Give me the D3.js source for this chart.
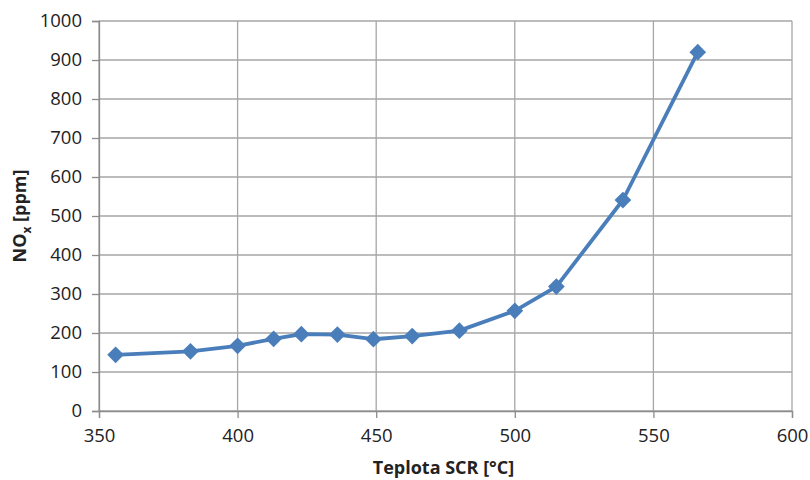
<!DOCTYPE html>
<html>
<head>
<meta charset="utf-8">
<script src="https://cdn.jsdelivr.net/npm/d3@7"></script>
<style>
  body { margin: 0; background: #fff; }
  text { font-family: "Open Sans", "Liberation Sans", sans-serif; fill: #222; }
</style>
</head>
<body>
<svg id="chart"></svg>
<script>
// temperature of SCR [°C] vs NOx [ppm]
let temps = [356, 383, 400, 413, 423, 436, 449, 463, 480, 500, 515, 539, 566];
let noxValues = [144, 153, 167, 185, 197, 196, 184, 192, 206, 257, 319, 541, 920];
let xTicks = [350, 400, 450, 500, 550, 600];
let yTicks = [0, 100, 200, 300, 400, 500, 600, 700, 800, 900, 1000];

function chartConfig(){
    let width = 810;
    let height = 480;
    let margin = {top: 21, bottom: 69, left: 99, right: 18};
    let bodyWidth = width - margin.left - margin.right;
    let bodyHeight = height - margin.top - margin.bottom;
    let container = d3.select("#chart")
        .attr("width", width)
        .attr("height", height);
    return {width, height, margin, bodyWidth, bodyHeight, container};
}

function chartScales(config){
    let {bodyWidth, bodyHeight} = config;
    let xScale = d3.scaleLinear().domain([350, 600]).range([0, bodyWidth]);
    let yScale = d3.scaleLinear().domain([0, 1000]).range([bodyHeight, 0]);
    return {xScale, yScale};
}

function drawChart(){
    let config = chartConfig();
    let {margin, container, bodyWidth, bodyHeight} = config;
    let {xScale, yScale} = chartScales(config);
    let body = container.append("g")
        .attr("transform", `translate(${margin.left},${margin.top})`);

    // grid
    body.selectAll(".hgrid").data(yTicks).enter().append("line")
        .attr("x1", 0).attr("x2", bodyWidth)
        .attr("y1", d => yScale(d)).attr("y2", d => yScale(d))
        .attr("stroke", "#a6a6a6").attr("stroke-width", 1.3);
    body.selectAll(".vgrid").data(xTicks).enter().append("line")
        .attr("y1", 0).attr("y2", bodyHeight)
        .attr("x1", d => xScale(d)).attr("x2", d => xScale(d))
        .attr("stroke", "#a6a6a6").attr("stroke-width", 1.3);

    // axes
    let yAxis = d3.axisLeft(yScale).tickValues(yTicks).tickFormat(d3.format("d"))
        .tickSize(7).tickPadding(10);
    let xAxis = d3.axisBottom(xScale).tickValues(xTicks).tickFormat(d3.format("d"))
        .tickSize(7).tickPadding(11);
    let gy = body.append("g").call(yAxis);
    let gx = body.append("g").attr("transform", `translate(0,${bodyHeight})`).call(xAxis);
    [gx, gy].forEach(g => {
        g.select(".domain").attr("stroke", "#8c8c8c").attr("stroke-width", 1.3);
        g.selectAll(".tick line").attr("stroke", "#8c8c8c").attr("stroke-width", 1.3);
        g.selectAll(".tick text").style("font-size", "18.5px").attr("fill", "#222");
    });
    gx.selectAll(".tick text").attr("dy", "0.71em");

    // line
    let points = temps.map((t, i) => ({x: t, y: noxValues[i]}));
    let line = d3.line().x(d => xScale(d.x)).y(d => yScale(d.y));
    body.append("path").datum(points)
        .attr("d", line)
        .attr("fill", "none")
        .attr("stroke", "#4a7ebb")
        .attr("stroke-width", 3.8)
        .attr("stroke-linejoin", "round");

    let marker = d3.symbol().type(d3.symbolSquare).size(140);
    body.selectAll(".pt").data(points).enter().append("path")
        .attr("d", marker)
        .attr("transform", d => `translate(${xScale(d.x)},${yScale(d.y)}) rotate(45)`)
        .attr("fill", "#4a7ebb");

    // titles
    container.append("text")
        .attr("x", margin.left + bodyWidth / 2 - 2)
        .attr("y", 474)
        .attr("text-anchor", "middle")
        .style("font-size", "18px").style("font-weight", "bold")
        .text("Teplota SCR [°C]");

    let yt = container.append("text")
        .attr("transform", `translate(26,${margin.top + bodyHeight / 2}) rotate(-90)`)
        .attr("text-anchor", "middle")
        .style("font-size", "18px").style("font-weight", "bold");
    yt.append("tspan").text("NO");
    yt.append("tspan").attr("dy", 5).style("font-size", "12px").text("x");
    yt.append("tspan").attr("dy", -5).text(" [ppm]");
}

drawChart();
</script>
</body>
</html>
